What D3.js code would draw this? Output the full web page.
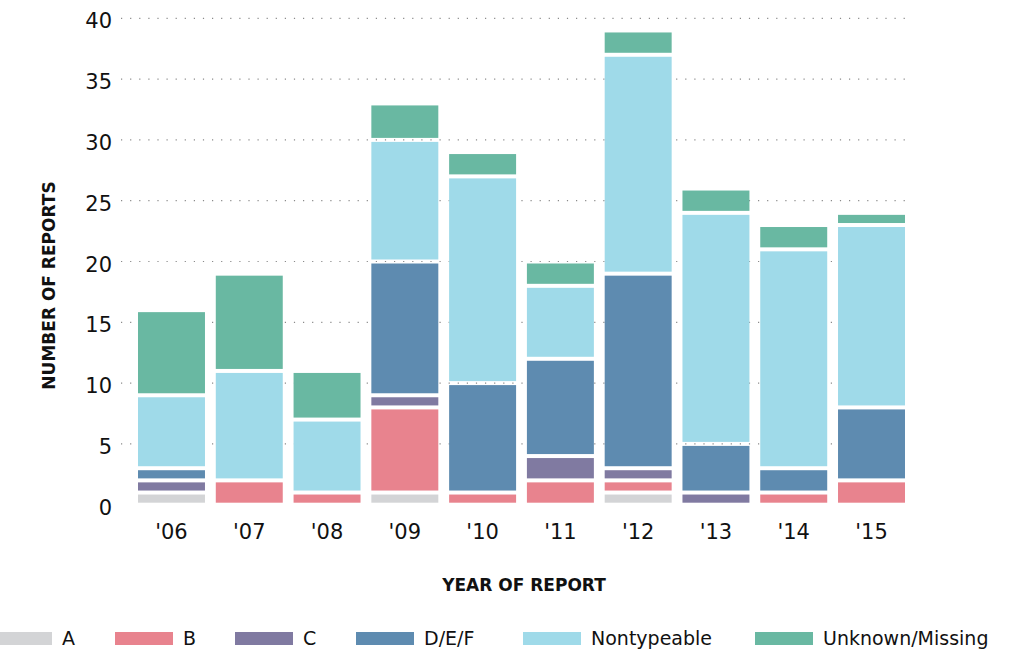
<!DOCTYPE html>
<html>
<head>
<meta charset="utf-8">
<script src="https://cdn.jsdelivr.net/npm/d3@7"></script>
<style>
  body { margin: 0; background: #fff; }
  svg { display: block; }
</style>
</head>
<body>
<div id="vis"></div>
<script>
// chart data
const years = ["'06", "'07", "'08", "'09", "'10", "'11", "'12", "'13", "'14", "'15"];
const serotypes = ["A", "B", "C", "D/E/F", "Nontypeable", "Unknown/Missing"];
const colors = ["#d3d4d6", "#e8838e", "#807aa1", "#5e8bb0", "#9fdae9", "#69b8a2"];

const typeA = [1, 0, 0, 1, 0, 0, 1, 0, 0, 0];
const typeB = [0, 2, 1, 7, 1, 2, 1, 0, 1, 2];
const typeC = [1, 0, 0, 1, 0, 2, 1, 1, 0, 0];
const typeDEF = [1, 0, 0, 11, 9, 8, 16, 4, 2, 6];
const nontypeable = [6, 9, 6, 10, 17, 6, 18, 19, 18, 15];
const unknown = [7, 8, 4, 3, 2, 2, 2, 2, 2, 1];

const yTicks = [0, 5, 10, 15, 20, 25, 30, 35, 40];

const width = 1019, height = 649;
const font = "'DejaVu Sans', sans-serif";
// left edge of each legend swatch
const legendX = [-6, 115, 235, 356, 523, 755];

const rows = years.map((yr, i) => ({
  year: yr,
  "A": typeA[i],
  "B": typeB[i],
  "C": typeC[i],
  "D/E/F": typeDEF[i],
  "Nontypeable": nontypeable[i],
  "Unknown/Missing": unknown[i]
}));

const svg = d3.select("#vis").append("svg")
  .attr("width", width)
  .attr("height", height)
  .attr("font-family", font);

const x = d3.scaleBand()
  .domain(years)
  .range([132.6, 910.4])
  .paddingInner(0.139)
  .paddingOuter(0.0695);

const y = d3.scaleLinear()
  .domain([0, 40])
  .range([504.7, 18.3]);

const color = d3.scaleOrdinal().domain(serotypes).range(colors);

// dotted grid
svg.append("g")
  .selectAll("line")
  .data(yTicks.filter(d => d > 0))
  .join("line")
  .attr("x1", 121)
  .attr("x2", 906)
  .attr("y1", d => y(d))
  .attr("y2", d => y(d))
  .attr("stroke", "#8a8a8a")
  .attr("stroke-width", 1.2)
  .attr("stroke-dasharray", "1.2,7.9");

// y tick labels
svg.append("g")
  .attr("font-size", 21)
  .attr("text-anchor", "end")
  .attr("fill", "#111")
  .selectAll("text")
  .data(yTicks)
  .join("text")
  .attr("x", 112)
  .attr("y", d => y(d) + 10)
  .text(d => d);

// stacked bars
const series = d3.stack().keys(serotypes)(rows);

svg.append("g")
  .selectAll("g")
  .data(series)
  .join("g")
  .attr("fill", d => color(d.key))
  .selectAll("rect")
  .data(d => d.filter(s => s[1] - s[0] > 0))
  .join("rect")
  .attr("x", d => x(d.data.year))
  .attr("width", x.bandwidth())
  .attr("y", d => y(d[1]) + 2)
  .attr("height", d => y(d[0]) - y(d[1]) - 4);

// x labels
svg.append("g")
  .attr("font-size", 21)
  .attr("text-anchor", "middle")
  .attr("fill", "#111")
  .selectAll("text")
  .data(years)
  .join("text")
  .attr("x", d => x(d) + x.bandwidth() / 2)
  .attr("y", 539)
  .text(d => d);

// axis titles
svg.append("text")
  .attr("x", 524)
  .attr("y", 591)
  .attr("text-anchor", "middle")
  .attr("font-size", 17)
  .attr("font-weight", 700)
  .attr("fill", "#111")
  .text("YEAR OF REPORT");

svg.append("text")
  .attr("transform", "translate(55,285.5) rotate(-90)")
  .attr("text-anchor", "middle")
  .attr("font-size", 17)
  .attr("font-weight", 700)
  .attr("fill", "#111")
  .text("NUMBER OF REPORTS");

// legend
const legend = svg.append("g")
  .attr("font-size", 19)
  .attr("fill", "#111")
  .selectAll("g")
  .data(serotypes)
  .join("g")
  .attr("transform", (d, i) => `translate(${legendX[i]},0)`);

legend.append("rect")
  .attr("y", 632)
  .attr("width", 58)
  .attr("height", 13)
  .attr("fill", d => color(d));

legend.append("text")
  .attr("x", 68)
  .attr("y", 645)
  .text(d => d);
</script>
</body>
</html>
